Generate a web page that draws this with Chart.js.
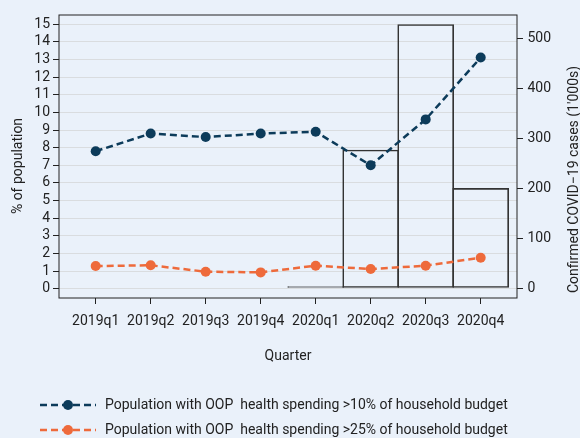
<!DOCTYPE html>
<html>
<head>
<meta charset="utf-8">
<script src="https://cdn.jsdelivr.net/npm/chart.js@4/dist/chart.umd.min.js"></script>
<style>
  body { margin: 0; background: #eaf1fa; }
  #wrap { width: 580px; height: 438px; }
</style>
</head>
<body>
<div id="wrap"><canvas id="chart" width="580" height="438"></canvas></div>
<script>
const quarters = ["2019q1", "2019q2", "2019q3", "2019q4", "2020q1", "2020q2", "2020q3", "2020q4"];
const over10 = [7.8, 8.8, 8.6, 8.8, 8.9, 7.0, 9.6, 13.1];
const over25 = [1.3, 1.34, 0.98, 0.94, 1.32, 1.13, 1.32, 1.77];
const covidCases = [null, null, null, null, 3, 277, 529, 200];
const leftTicks = [0, 1, 2, 3, 4, 5, 6, 7, 8, 9, 10, 11, 12, 13, 14, 15];
const rightTicks = [0, 100, 200, 300, 400, 500];
const seriesNames = [
  "Population with OOP  health spending >10% of household budget",
  "Population with OOP  health spending >25% of household budget",
];

const ink = "#222";
const navy = "#0c3b5a";
const orange = "#ee6a3b";
const bg = "#eaf1fa";
const font = { family: "Roboto", size: 14 };

// dashed line + dot, used as legend symbol
function legendIcon(color) {
  const c = document.createElement("canvas");
  c.width = 87;
  c.height = 12;
  const g = c.getContext("2d");
  g.strokeStyle = color;
  g.lineWidth = 2.5;
  g.setLineDash([7, 4]);
  g.beginPath();
  g.moveTo(29, 6);
  g.lineTo(85, 6);
  g.stroke();
  g.fillStyle = color;
  g.beginPath();
  g.arc(57, 6, 5, 0, Math.PI * 2);
  g.fill();
  return c;
}
const icons = [legendIcon(navy), legendIcon(orange)];

const toPoints = (arr) => arr.map((v, i) => ({ x: i, y: v })).filter((p) => p.y !== null);

const frameAndTitles = {
  id: "frameAndTitles",
  beforeDraw(chart) {
    const ctx = chart.ctx;
    ctx.save();
    ctx.fillStyle = bg;
    ctx.fillRect(0, 0, chart.width, chart.height);
    ctx.restore();
  },
  afterDraw(chart) {
    const { ctx, chartArea: a } = chart;
    ctx.save();
    ctx.strokeStyle = ink;
    ctx.lineWidth = 1;
    ctx.strokeRect(a.left, a.top, a.right - a.left, a.bottom - a.top);
    ctx.fillStyle = ink;
    ctx.font = "14px Roboto";
    ctx.textAlign = "center";
    ctx.textBaseline = "middle";
    ctx.translate(18, 166);
    ctx.rotate(-Math.PI / 2);
    ctx.fillText("% of population", 0, 0);
    ctx.restore();
    ctx.save();
    ctx.fillStyle = ink;
    ctx.font = "14px Roboto";
    ctx.textAlign = "center";
    ctx.textBaseline = "middle";
    ctx.translate(574, 179.5);
    ctx.rotate(-Math.PI / 2);
    ctx.fillText("Confirmed COVID\u221219 cases (1'000s)", 0, 0);
    ctx.restore();
  },
};

new Chart(document.getElementById("chart"), {
  type: "line",
  data: {
    datasets: [
      {
        label: seriesNames[0],
        data: toPoints(over10),
        yAxisID: "y",
        borderColor: navy,
        backgroundColor: navy,
        pointBackgroundColor: navy,
        borderDash: [7, 4],
        borderWidth: 2.5,
        pointRadius: 5,
        pointBorderWidth: 0,
        tension: 0,
        order: 1,
      },
      {
        label: seriesNames[1],
        data: toPoints(over25),
        yAxisID: "y",
        borderColor: orange,
        backgroundColor: orange,
        pointBackgroundColor: orange,
        borderDash: [7, 4],
        borderWidth: 2.5,
        pointRadius: 5,
        pointBorderWidth: 0,
        tension: 0,
        order: 2,
      },
      {
        type: "bar",
        label: "Confirmed COVID-19 cases",
        data: toPoints(covidCases),
        yAxisID: "y1",
        backgroundColor: "rgba(0,0,0,0)",
        borderColor: "#333",
        borderWidth: 1,
        borderSkipped: false,
        barThickness: 56,
        order: 3,
      },
    ],
  },
  options: {
    responsive: false,
    animation: false,
    layout: { padding: { top: 15, left: 0, right: 0, bottom: 0 } },
    plugins: {
      tooltip: { enabled: false },
      legend: {
        position: "bottom",
        align: "start",
        maxHeight: 51,
        labels: {
          usePointStyle: true,
          pointStyleWidth: 87,
          padding: 11,
          color: ink,
          font: font,
          generateLabels: () => seriesNames.map((name, i) => ({
            text: name,
            pointStyle: icons[i],
            fillStyle: "rgba(0,0,0,0)",
            strokeStyle: "rgba(0,0,0,0)",
            lineWidth: 0,
            hidden: false,
            datasetIndex: i,
            fontColor: ink,
          })),
        },
      },
    },
    scales: {
      x: {
        type: "linear",
        offset: false,
        min: -0.667,
        max: 7.66,
        afterBuildTicks: (s) => { s.ticks = quarters.map((q, i) => ({ value: i })); },
        afterFit: (s) => { s.height = 89; },
        grid: { offset: false, drawOnChartArea: false, tickLength: 6, tickColor: ink },
        border: { display: false },
        ticks: {
          padding: 9.3,
          color: ink,
          font: font,
          maxRotation: 0,
          autoSkip: false,
          callback: (v) => quarters[v],
        },
        title: { display: true, text: "Quarter", color: ink, font: font, padding: { top: 0, bottom: 22.1 } },
      },
      y: {
        position: "left",
        min: -0.51,
        max: 15.51,
        afterBuildTicks: (s) => { s.ticks = leftTicks.map((v) => ({ value: v })); },
        afterFit: (s) => { s.width = 59; },
        grid: { color: "#d9dcdf", lineWidth: 1, tickLength: 6, tickColor: ink },
        border: { display: false },
        ticks: { padding: 3, color: ink, font: font, autoSkip: false },
      },
      y1: {
        position: "right",
        min: -20,
        max: 548,
        afterBuildTicks: (s) => { s.ticks = rightTicks.map((v) => ({ value: v })); },
        afterFit: (s) => { s.width = 63; },
        grid: { drawOnChartArea: false, tickLength: 6, tickColor: ink },
        border: { display: false },
        ticks: { padding: 4.5, color: ink, font: font, autoSkip: false },
      },
    },
  },
  plugins: [frameAndTitles],
});
</script>
</body>
</html>
